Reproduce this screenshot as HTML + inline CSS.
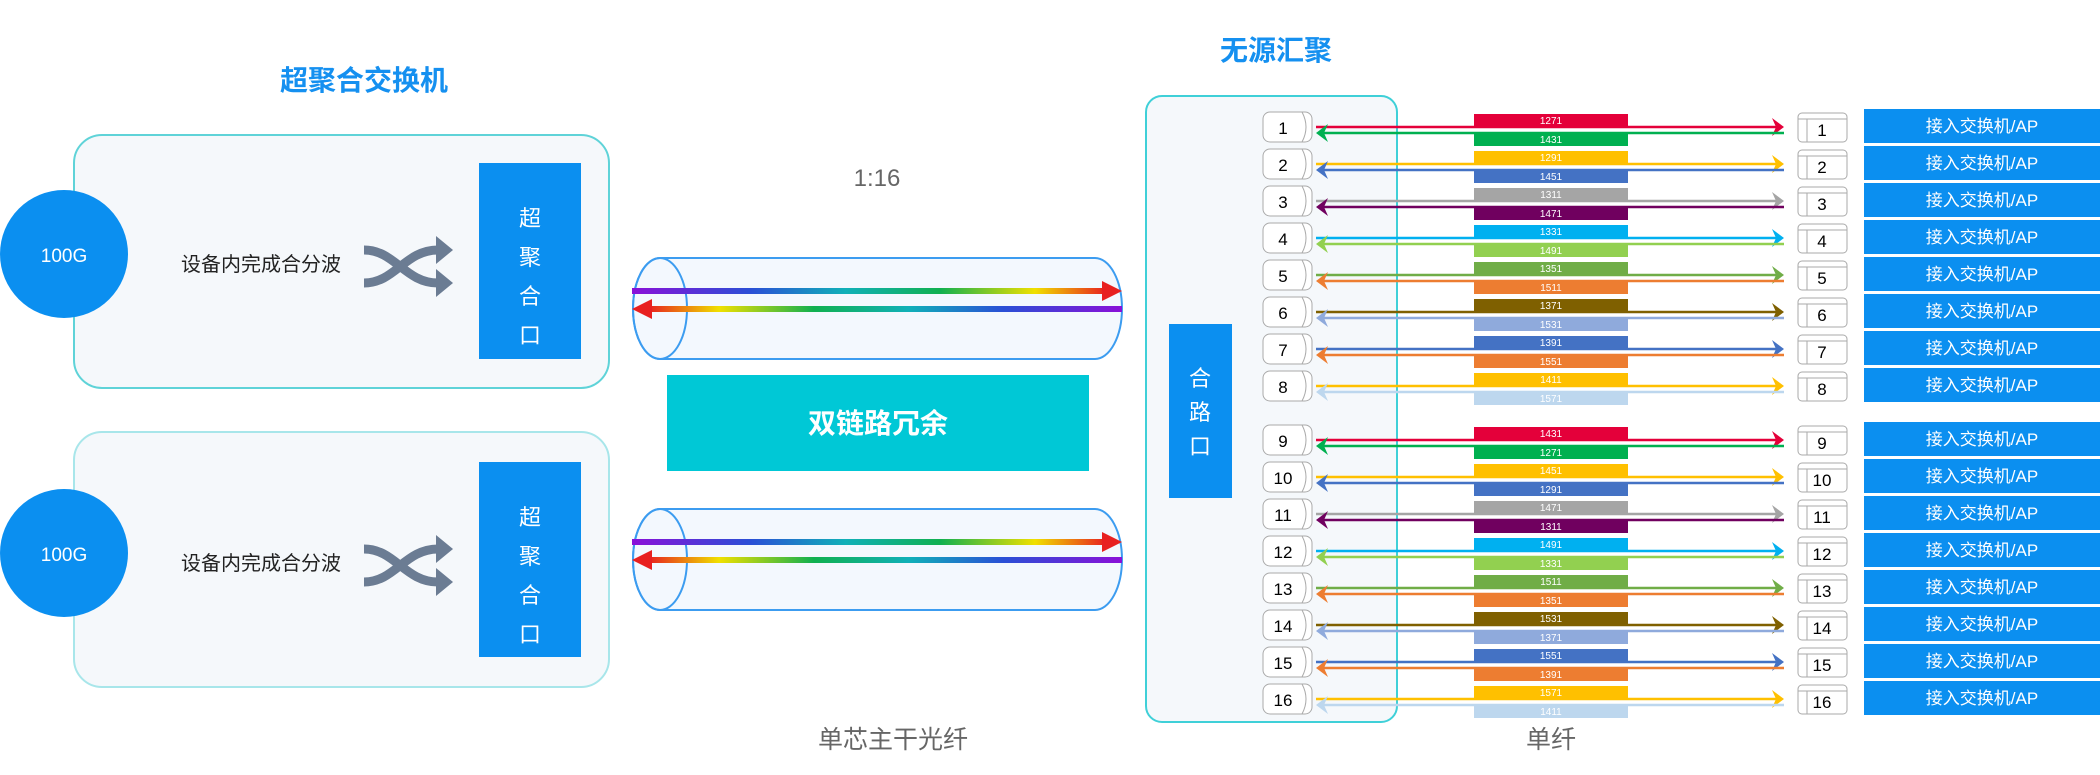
<!DOCTYPE html>
<html><head><meta charset="utf-8"><style>
html,body{margin:0;padding:0;background:#fff;}
svg{display:block;font-family:"Liberation Sans","Noto Sans CJK SC",sans-serif;}
</style></head><body>
<svg width="2100" height="775" viewBox="0 0 2100 775" xmlns="http://www.w3.org/2000/svg">
<defs>
<linearGradient id="gU" x1="0" x2="1" y1="0" y2="0">
<stop offset="0" stop-color="#8a10d8"/><stop offset="0.25" stop-color="#2a4fd6"/><stop offset="0.45" stop-color="#10b0b8"/><stop offset="0.65" stop-color="#10b050"/><stop offset="0.85" stop-color="#f0e000"/><stop offset="1" stop-color="#e82020"/>
</linearGradient>
<linearGradient id="gD" x1="1" x2="0" y1="0" y2="0">
<stop offset="0" stop-color="#8a10d8"/><stop offset="0.25" stop-color="#2a4fd6"/><stop offset="0.45" stop-color="#10b0b8"/><stop offset="0.65" stop-color="#10b050"/><stop offset="0.85" stop-color="#f0e000"/><stop offset="1" stop-color="#e82020"/>
</linearGradient>
</defs>

<!-- Left titles -->
<text x="364" y="90" text-anchor="middle" font-size="28" font-weight="bold" fill="#1590f0">超聚合交换机</text>
<text x="1276" y="60" text-anchor="middle" font-size="28" font-weight="bold" fill="#1590f0">无源汇聚</text>

<!-- Box 1 -->
<rect x="74" y="135" width="535" height="253" rx="28" fill="#f5f8fb" stroke="#5fd3d8" stroke-width="2"/>
<circle cx="64" cy="254" r="64" fill="#0b8ff0"/>
<text x="64" y="262" text-anchor="middle" font-size="19" fill="#fff">100G</text>
<text x="261" y="271" text-anchor="middle" font-size="20" fill="#222">设备内完成合分波</text>
<g fill="none" stroke="#6b7c93" stroke-width="9">
<path d="M364 250 C395 250 405 283 438 283"/><path d="M364 283 C395 283 405 250 438 250"/>
</g>
<polygon points="453,250 436,236 436,264" fill="#6b7c93"/><polygon points="453,283 436,269 436,297" fill="#6b7c93"/>
<rect x="479" y="163" width="102" height="196" fill="#0b8ff0"/>
<text x="530" y="226" text-anchor="middle" font-size="22" fill="#fff">超</text>
<text x="530" y="265" text-anchor="middle" font-size="22" fill="#fff">聚</text>
<text x="530" y="304" text-anchor="middle" font-size="22" fill="#fff">合</text>
<text x="530" y="343" text-anchor="middle" font-size="22" fill="#fff">口</text>

<!-- Box 2 -->
<rect x="74" y="432" width="535" height="255" rx="28" fill="#f5f8fb" stroke="#a8e6ea" stroke-width="2"/>
<circle cx="64" cy="553" r="64" fill="#0b8ff0"/>
<text x="64" y="561" text-anchor="middle" font-size="19" fill="#fff">100G</text>
<text x="261" y="570" text-anchor="middle" font-size="20" fill="#222">设备内完成合分波</text>
<g fill="none" stroke="#6b7c93" stroke-width="9">
<path d="M364 549 C395 549 405 582 438 582"/><path d="M364 582 C395 582 405 549 438 549"/>
</g>
<polygon points="453,549 436,535 436,563" fill="#6b7c93"/><polygon points="453,582 436,568 436,596" fill="#6b7c93"/>
<rect x="479" y="462" width="102" height="195" fill="#0b8ff0"/>
<text x="530" y="525" text-anchor="middle" font-size="22" fill="#fff">超</text>
<text x="530" y="564" text-anchor="middle" font-size="22" fill="#fff">聚</text>
<text x="530" y="603" text-anchor="middle" font-size="22" fill="#fff">合</text>
<text x="530" y="642" text-anchor="middle" font-size="22" fill="#fff">口</text>

<!-- middle -->
<text x="877" y="186" text-anchor="middle" font-size="24" fill="#666">1:16</text>
<g id="tube1">
<path d="M660 258 H1095 A27 50.5 0 0 1 1095 359 H660 A27 50.5 0 0 1 660 258 Z" fill="#f3f8fe" stroke="#3c9cf0" stroke-width="2"/>
<ellipse cx="660" cy="308.5" rx="27" ry="50.5" fill="none" stroke="#3c9cf0" stroke-width="2"/>
<rect x="632" y="288" width="474" height="6" fill="url(#gU)"/>
<polygon points="1122,291 1102,281 1102,301" fill="#e82020"/>
<rect x="648" y="306" width="474" height="6" fill="url(#gD)"/>
<polygon points="632,309 652,299 652,319" fill="#e82020"/>
</g>
<g transform="translate(0,251)">
<path d="M660 258 H1095 A27 50.5 0 0 1 1095 359 H660 A27 50.5 0 0 1 660 258 Z" fill="#f3f8fe" stroke="#3c9cf0" stroke-width="2"/>
<ellipse cx="660" cy="308.5" rx="27" ry="50.5" fill="none" stroke="#3c9cf0" stroke-width="2"/>
<rect x="632" y="288" width="474" height="6" fill="url(#gU)"/>
<polygon points="1122,291 1102,281 1102,301" fill="#e82020"/>
<rect x="648" y="306" width="474" height="6" fill="url(#gD)"/>
<polygon points="632,309 652,299 652,319" fill="#e82020"/>
</g>
<rect x="667" y="375" width="422" height="96" fill="#00c8d6"/>
<text x="878" y="433" text-anchor="middle" font-size="28" font-weight="bold" fill="#fff">双链路冗余</text>
<text x="893" y="748" text-anchor="middle" font-size="25" fill="#666">单芯主干光纤</text>
<text x="1551" y="748" text-anchor="middle" font-size="25" fill="#666">单纤</text>

<!-- right outer -->
<rect x="1146" y="96" width="251" height="626" rx="16" fill="#f5f8fb" stroke="#3fd0d8" stroke-width="2"/>
<rect x="1169" y="324" width="63" height="174" fill="#0b8ff0"/>
<text x="1200" y="386" text-anchor="middle" font-size="22" fill="#fff">合</text>
<text x="1200" y="420" text-anchor="middle" font-size="22" fill="#fff">路</text>
<text x="1200" y="454" text-anchor="middle" font-size="22" fill="#fff">口</text>

<!-- rows -->
<g font-size="17">
<g transform="translate(0,109)"><rect x="1263" y="3" width="49" height="30" rx="7" fill="#fff" stroke="#aaa"/><path d="M1302 3 q8 15 0 30" fill="none" stroke="#aaa"/><text x="1283" y="25" text-anchor="middle">1</text>
<line x1="1316" y1="18" x2="1778" y2="18" stroke="#e4003a" stroke-width="2.5"/><polygon points="1784,18 1772,9 1776,18 1772,27" fill="#e4003a"/>
<line x1="1322" y1="24" x2="1784" y2="24" stroke="#00b050" stroke-width="2.5"/><polygon points="1316,24 1328,15 1324,24 1328,33" fill="#00b050"/>
<rect x="1474" y="5" width="154" height="13" fill="#e4003a"/><rect x="1474" y="24" width="154" height="13" fill="#00b050"/>
<text x="1551" y="15" text-anchor="middle" font-size="10" fill="#fff">1271</text><text x="1551" y="34" text-anchor="middle" font-size="10" fill="#fff">1431</text>
<rect x="1798" y="4" width="49" height="29" rx="4" fill="#fff" stroke="#aaa"/><path d="M1798 10 H1847 M1807 10 V33" stroke="#aaa"/><text x="1822" y="27" text-anchor="middle">1</text>
<rect x="1864" y="0" width="236" height="34" fill="#0b8ff0"/><text x="1982" y="23" text-anchor="middle" fill="#fff">接入交换机/AP</text></g>

<g transform="translate(0,146)"><rect x="1263" y="3" width="49" height="30" rx="7" fill="#fff" stroke="#aaa"/><path d="M1302 3 q8 15 0 30" fill="none" stroke="#aaa"/><text x="1283" y="25" text-anchor="middle">2</text>
<line x1="1316" y1="18" x2="1778" y2="18" stroke="#ffc000" stroke-width="2.5"/><polygon points="1784,18 1772,9 1776,18 1772,27" fill="#ffc000"/>
<line x1="1322" y1="24" x2="1784" y2="24" stroke="#4472c4" stroke-width="2.5"/><polygon points="1316,24 1328,15 1324,24 1328,33" fill="#4472c4"/>
<rect x="1474" y="5" width="154" height="13" fill="#ffc000"/><rect x="1474" y="24" width="154" height="13" fill="#4472c4"/>
<text x="1551" y="15" text-anchor="middle" font-size="10" fill="#fff">1291</text><text x="1551" y="34" text-anchor="middle" font-size="10" fill="#fff">1451</text>
<rect x="1798" y="4" width="49" height="29" rx="4" fill="#fff" stroke="#aaa"/><path d="M1798 10 H1847 M1807 10 V33" stroke="#aaa"/><text x="1822" y="27" text-anchor="middle">2</text>
<rect x="1864" y="0" width="236" height="34" fill="#0b8ff0"/><text x="1982" y="23" text-anchor="middle" fill="#fff">接入交换机/AP</text></g>

<g transform="translate(0,183)"><rect x="1263" y="3" width="49" height="30" rx="7" fill="#fff" stroke="#aaa"/><path d="M1302 3 q8 15 0 30" fill="none" stroke="#aaa"/><text x="1283" y="25" text-anchor="middle">3</text>
<line x1="1316" y1="18" x2="1778" y2="18" stroke="#a5a5a5" stroke-width="2.5"/><polygon points="1784,18 1772,9 1776,18 1772,27" fill="#a5a5a5"/>
<line x1="1322" y1="24" x2="1784" y2="24" stroke="#70005f" stroke-width="2.5"/><polygon points="1316,24 1328,15 1324,24 1328,33" fill="#70005f"/>
<rect x="1474" y="5" width="154" height="13" fill="#a5a5a5"/><rect x="1474" y="24" width="154" height="13" fill="#70005f"/>
<text x="1551" y="15" text-anchor="middle" font-size="10" fill="#fff">1311</text><text x="1551" y="34" text-anchor="middle" font-size="10" fill="#fff">1471</text>
<rect x="1798" y="4" width="49" height="29" rx="4" fill="#fff" stroke="#aaa"/><path d="M1798 10 H1847 M1807 10 V33" stroke="#aaa"/><text x="1822" y="27" text-anchor="middle">3</text>
<rect x="1864" y="0" width="236" height="34" fill="#0b8ff0"/><text x="1982" y="23" text-anchor="middle" fill="#fff">接入交换机/AP</text></g>

<g transform="translate(0,220)"><rect x="1263" y="3" width="49" height="30" rx="7" fill="#fff" stroke="#aaa"/><path d="M1302 3 q8 15 0 30" fill="none" stroke="#aaa"/><text x="1283" y="25" text-anchor="middle">4</text>
<line x1="1316" y1="18" x2="1778" y2="18" stroke="#00b0f0" stroke-width="2.5"/><polygon points="1784,18 1772,9 1776,18 1772,27" fill="#00b0f0"/>
<line x1="1322" y1="24" x2="1784" y2="24" stroke="#92d050" stroke-width="2.5"/><polygon points="1316,24 1328,15 1324,24 1328,33" fill="#92d050"/>
<rect x="1474" y="5" width="154" height="13" fill="#00b0f0"/><rect x="1474" y="24" width="154" height="13" fill="#92d050"/>
<text x="1551" y="15" text-anchor="middle" font-size="10" fill="#fff">1331</text><text x="1551" y="34" text-anchor="middle" font-size="10" fill="#fff">1491</text>
<rect x="1798" y="4" width="49" height="29" rx="4" fill="#fff" stroke="#aaa"/><path d="M1798 10 H1847 M1807 10 V33" stroke="#aaa"/><text x="1822" y="27" text-anchor="middle">4</text>
<rect x="1864" y="0" width="236" height="34" fill="#0b8ff0"/><text x="1982" y="23" text-anchor="middle" fill="#fff">接入交换机/AP</text></g>

<g transform="translate(0,257)"><rect x="1263" y="3" width="49" height="30" rx="7" fill="#fff" stroke="#aaa"/><path d="M1302 3 q8 15 0 30" fill="none" stroke="#aaa"/><text x="1283" y="25" text-anchor="middle">5</text>
<line x1="1316" y1="18" x2="1778" y2="18" stroke="#70ad47" stroke-width="2.5"/><polygon points="1784,18 1772,9 1776,18 1772,27" fill="#70ad47"/>
<line x1="1322" y1="24" x2="1784" y2="24" stroke="#ed7d31" stroke-width="2.5"/><polygon points="1316,24 1328,15 1324,24 1328,33" fill="#ed7d31"/>
<rect x="1474" y="5" width="154" height="13" fill="#70ad47"/><rect x="1474" y="24" width="154" height="13" fill="#ed7d31"/>
<text x="1551" y="15" text-anchor="middle" font-size="10" fill="#fff">1351</text><text x="1551" y="34" text-anchor="middle" font-size="10" fill="#fff">1511</text>
<rect x="1798" y="4" width="49" height="29" rx="4" fill="#fff" stroke="#aaa"/><path d="M1798 10 H1847 M1807 10 V33" stroke="#aaa"/><text x="1822" y="27" text-anchor="middle">5</text>
<rect x="1864" y="0" width="236" height="34" fill="#0b8ff0"/><text x="1982" y="23" text-anchor="middle" fill="#fff">接入交换机/AP</text></g>

<g transform="translate(0,294)"><rect x="1263" y="3" width="49" height="30" rx="7" fill="#fff" stroke="#aaa"/><path d="M1302 3 q8 15 0 30" fill="none" stroke="#aaa"/><text x="1283" y="25" text-anchor="middle">6</text>
<line x1="1316" y1="18" x2="1778" y2="18" stroke="#7f6000" stroke-width="2.5"/><polygon points="1784,18 1772,9 1776,18 1772,27" fill="#7f6000"/>
<line x1="1322" y1="24" x2="1784" y2="24" stroke="#8faadc" stroke-width="2.5"/><polygon points="1316,24 1328,15 1324,24 1328,33" fill="#8faadc"/>
<rect x="1474" y="5" width="154" height="13" fill="#7f6000"/><rect x="1474" y="24" width="154" height="13" fill="#8faadc"/>
<text x="1551" y="15" text-anchor="middle" font-size="10" fill="#fff">1371</text><text x="1551" y="34" text-anchor="middle" font-size="10" fill="#fff">1531</text>
<rect x="1798" y="4" width="49" height="29" rx="4" fill="#fff" stroke="#aaa"/><path d="M1798 10 H1847 M1807 10 V33" stroke="#aaa"/><text x="1822" y="27" text-anchor="middle">6</text>
<rect x="1864" y="0" width="236" height="34" fill="#0b8ff0"/><text x="1982" y="23" text-anchor="middle" fill="#fff">接入交换机/AP</text></g>

<g transform="translate(0,331)"><rect x="1263" y="3" width="49" height="30" rx="7" fill="#fff" stroke="#aaa"/><path d="M1302 3 q8 15 0 30" fill="none" stroke="#aaa"/><text x="1283" y="25" text-anchor="middle">7</text>
<line x1="1316" y1="18" x2="1778" y2="18" stroke="#4472c4" stroke-width="2.5"/><polygon points="1784,18 1772,9 1776,18 1772,27" fill="#4472c4"/>
<line x1="1322" y1="24" x2="1784" y2="24" stroke="#ed7d31" stroke-width="2.5"/><polygon points="1316,24 1328,15 1324,24 1328,33" fill="#ed7d31"/>
<rect x="1474" y="5" width="154" height="13" fill="#4472c4"/><rect x="1474" y="24" width="154" height="13" fill="#ed7d31"/>
<text x="1551" y="15" text-anchor="middle" font-size="10" fill="#fff">1391</text><text x="1551" y="34" text-anchor="middle" font-size="10" fill="#fff">1551</text>
<rect x="1798" y="4" width="49" height="29" rx="4" fill="#fff" stroke="#aaa"/><path d="M1798 10 H1847 M1807 10 V33" stroke="#aaa"/><text x="1822" y="27" text-anchor="middle">7</text>
<rect x="1864" y="0" width="236" height="34" fill="#0b8ff0"/><text x="1982" y="23" text-anchor="middle" fill="#fff">接入交换机/AP</text></g>

<g transform="translate(0,368)"><rect x="1263" y="3" width="49" height="30" rx="7" fill="#fff" stroke="#aaa"/><path d="M1302 3 q8 15 0 30" fill="none" stroke="#aaa"/><text x="1283" y="25" text-anchor="middle">8</text>
<line x1="1316" y1="18" x2="1778" y2="18" stroke="#ffc000" stroke-width="2.5"/><polygon points="1784,18 1772,9 1776,18 1772,27" fill="#ffc000"/>
<line x1="1322" y1="24" x2="1784" y2="24" stroke="#bdd7ee" stroke-width="2.5"/><polygon points="1316,24 1328,15 1324,24 1328,33" fill="#bdd7ee"/>
<rect x="1474" y="5" width="154" height="13" fill="#ffc000"/><rect x="1474" y="24" width="154" height="13" fill="#bdd7ee"/>
<text x="1551" y="15" text-anchor="middle" font-size="10" fill="#fff">1411</text><text x="1551" y="34" text-anchor="middle" font-size="10" fill="#fff">1571</text>
<rect x="1798" y="4" width="49" height="29" rx="4" fill="#fff" stroke="#aaa"/><path d="M1798 10 H1847 M1807 10 V33" stroke="#aaa"/><text x="1822" y="27" text-anchor="middle">8</text>
<rect x="1864" y="0" width="236" height="34" fill="#0b8ff0"/><text x="1982" y="23" text-anchor="middle" fill="#fff">接入交换机/AP</text></g>

<g transform="translate(0,422)"><rect x="1263" y="3" width="49" height="30" rx="7" fill="#fff" stroke="#aaa"/><path d="M1302 3 q8 15 0 30" fill="none" stroke="#aaa"/><text x="1283" y="25" text-anchor="middle">9</text>
<line x1="1316" y1="18" x2="1778" y2="18" stroke="#e4003a" stroke-width="2.5"/><polygon points="1784,18 1772,9 1776,18 1772,27" fill="#e4003a"/>
<line x1="1322" y1="24" x2="1784" y2="24" stroke="#00b050" stroke-width="2.5"/><polygon points="1316,24 1328,15 1324,24 1328,33" fill="#00b050"/>
<rect x="1474" y="5" width="154" height="13" fill="#e4003a"/><rect x="1474" y="24" width="154" height="13" fill="#00b050"/>
<text x="1551" y="15" text-anchor="middle" font-size="10" fill="#fff">1431</text><text x="1551" y="34" text-anchor="middle" font-size="10" fill="#fff">1271</text>
<rect x="1798" y="4" width="49" height="29" rx="4" fill="#fff" stroke="#aaa"/><path d="M1798 10 H1847 M1807 10 V33" stroke="#aaa"/><text x="1822" y="27" text-anchor="middle">9</text>
<rect x="1864" y="0" width="236" height="34" fill="#0b8ff0"/><text x="1982" y="23" text-anchor="middle" fill="#fff">接入交换机/AP</text></g>

<g transform="translate(0,459)"><rect x="1263" y="3" width="49" height="30" rx="7" fill="#fff" stroke="#aaa"/><path d="M1302 3 q8 15 0 30" fill="none" stroke="#aaa"/><text x="1283" y="25" text-anchor="middle">10</text>
<line x1="1316" y1="18" x2="1778" y2="18" stroke="#ffc000" stroke-width="2.5"/><polygon points="1784,18 1772,9 1776,18 1772,27" fill="#ffc000"/>
<line x1="1322" y1="24" x2="1784" y2="24" stroke="#4472c4" stroke-width="2.5"/><polygon points="1316,24 1328,15 1324,24 1328,33" fill="#4472c4"/>
<rect x="1474" y="5" width="154" height="13" fill="#ffc000"/><rect x="1474" y="24" width="154" height="13" fill="#4472c4"/>
<text x="1551" y="15" text-anchor="middle" font-size="10" fill="#fff">1451</text><text x="1551" y="34" text-anchor="middle" font-size="10" fill="#fff">1291</text>
<rect x="1798" y="4" width="49" height="29" rx="4" fill="#fff" stroke="#aaa"/><path d="M1798 10 H1847 M1807 10 V33" stroke="#aaa"/><text x="1822" y="27" text-anchor="middle">10</text>
<rect x="1864" y="0" width="236" height="34" fill="#0b8ff0"/><text x="1982" y="23" text-anchor="middle" fill="#fff">接入交换机/AP</text></g>

<g transform="translate(0,496)"><rect x="1263" y="3" width="49" height="30" rx="7" fill="#fff" stroke="#aaa"/><path d="M1302 3 q8 15 0 30" fill="none" stroke="#aaa"/><text x="1283" y="25" text-anchor="middle">11</text>
<line x1="1316" y1="18" x2="1778" y2="18" stroke="#a5a5a5" stroke-width="2.5"/><polygon points="1784,18 1772,9 1776,18 1772,27" fill="#a5a5a5"/>
<line x1="1322" y1="24" x2="1784" y2="24" stroke="#70005f" stroke-width="2.5"/><polygon points="1316,24 1328,15 1324,24 1328,33" fill="#70005f"/>
<rect x="1474" y="5" width="154" height="13" fill="#a5a5a5"/><rect x="1474" y="24" width="154" height="13" fill="#70005f"/>
<text x="1551" y="15" text-anchor="middle" font-size="10" fill="#fff">1471</text><text x="1551" y="34" text-anchor="middle" font-size="10" fill="#fff">1311</text>
<rect x="1798" y="4" width="49" height="29" rx="4" fill="#fff" stroke="#aaa"/><path d="M1798 10 H1847 M1807 10 V33" stroke="#aaa"/><text x="1822" y="27" text-anchor="middle">11</text>
<rect x="1864" y="0" width="236" height="34" fill="#0b8ff0"/><text x="1982" y="23" text-anchor="middle" fill="#fff">接入交换机/AP</text></g>

<g transform="translate(0,533)"><rect x="1263" y="3" width="49" height="30" rx="7" fill="#fff" stroke="#aaa"/><path d="M1302 3 q8 15 0 30" fill="none" stroke="#aaa"/><text x="1283" y="25" text-anchor="middle">12</text>
<line x1="1316" y1="18" x2="1778" y2="18" stroke="#00b0f0" stroke-width="2.5"/><polygon points="1784,18 1772,9 1776,18 1772,27" fill="#00b0f0"/>
<line x1="1322" y1="24" x2="1784" y2="24" stroke="#92d050" stroke-width="2.5"/><polygon points="1316,24 1328,15 1324,24 1328,33" fill="#92d050"/>
<rect x="1474" y="5" width="154" height="13" fill="#00b0f0"/><rect x="1474" y="24" width="154" height="13" fill="#92d050"/>
<text x="1551" y="15" text-anchor="middle" font-size="10" fill="#fff">1491</text><text x="1551" y="34" text-anchor="middle" font-size="10" fill="#fff">1331</text>
<rect x="1798" y="4" width="49" height="29" rx="4" fill="#fff" stroke="#aaa"/><path d="M1798 10 H1847 M1807 10 V33" stroke="#aaa"/><text x="1822" y="27" text-anchor="middle">12</text>
<rect x="1864" y="0" width="236" height="34" fill="#0b8ff0"/><text x="1982" y="23" text-anchor="middle" fill="#fff">接入交换机/AP</text></g>

<g transform="translate(0,570)"><rect x="1263" y="3" width="49" height="30" rx="7" fill="#fff" stroke="#aaa"/><path d="M1302 3 q8 15 0 30" fill="none" stroke="#aaa"/><text x="1283" y="25" text-anchor="middle">13</text>
<line x1="1316" y1="18" x2="1778" y2="18" stroke="#70ad47" stroke-width="2.5"/><polygon points="1784,18 1772,9 1776,18 1772,27" fill="#70ad47"/>
<line x1="1322" y1="24" x2="1784" y2="24" stroke="#ed7d31" stroke-width="2.5"/><polygon points="1316,24 1328,15 1324,24 1328,33" fill="#ed7d31"/>
<rect x="1474" y="5" width="154" height="13" fill="#70ad47"/><rect x="1474" y="24" width="154" height="13" fill="#ed7d31"/>
<text x="1551" y="15" text-anchor="middle" font-size="10" fill="#fff">1511</text><text x="1551" y="34" text-anchor="middle" font-size="10" fill="#fff">1351</text>
<rect x="1798" y="4" width="49" height="29" rx="4" fill="#fff" stroke="#aaa"/><path d="M1798 10 H1847 M1807 10 V33" stroke="#aaa"/><text x="1822" y="27" text-anchor="middle">13</text>
<rect x="1864" y="0" width="236" height="34" fill="#0b8ff0"/><text x="1982" y="23" text-anchor="middle" fill="#fff">接入交换机/AP</text></g>

<g transform="translate(0,607)"><rect x="1263" y="3" width="49" height="30" rx="7" fill="#fff" stroke="#aaa"/><path d="M1302 3 q8 15 0 30" fill="none" stroke="#aaa"/><text x="1283" y="25" text-anchor="middle">14</text>
<line x1="1316" y1="18" x2="1778" y2="18" stroke="#7f6000" stroke-width="2.5"/><polygon points="1784,18 1772,9 1776,18 1772,27" fill="#7f6000"/>
<line x1="1322" y1="24" x2="1784" y2="24" stroke="#8faadc" stroke-width="2.5"/><polygon points="1316,24 1328,15 1324,24 1328,33" fill="#8faadc"/>
<rect x="1474" y="5" width="154" height="13" fill="#7f6000"/><rect x="1474" y="24" width="154" height="13" fill="#8faadc"/>
<text x="1551" y="15" text-anchor="middle" font-size="10" fill="#fff">1531</text><text x="1551" y="34" text-anchor="middle" font-size="10" fill="#fff">1371</text>
<rect x="1798" y="4" width="49" height="29" rx="4" fill="#fff" stroke="#aaa"/><path d="M1798 10 H1847 M1807 10 V33" stroke="#aaa"/><text x="1822" y="27" text-anchor="middle">14</text>
<rect x="1864" y="0" width="236" height="34" fill="#0b8ff0"/><text x="1982" y="23" text-anchor="middle" fill="#fff">接入交换机/AP</text></g>

<g transform="translate(0,644)"><rect x="1263" y="3" width="49" height="30" rx="7" fill="#fff" stroke="#aaa"/><path d="M1302 3 q8 15 0 30" fill="none" stroke="#aaa"/><text x="1283" y="25" text-anchor="middle">15</text>
<line x1="1316" y1="18" x2="1778" y2="18" stroke="#4472c4" stroke-width="2.5"/><polygon points="1784,18 1772,9 1776,18 1772,27" fill="#4472c4"/>
<line x1="1322" y1="24" x2="1784" y2="24" stroke="#ed7d31" stroke-width="2.5"/><polygon points="1316,24 1328,15 1324,24 1328,33" fill="#ed7d31"/>
<rect x="1474" y="5" width="154" height="13" fill="#4472c4"/><rect x="1474" y="24" width="154" height="13" fill="#ed7d31"/>
<text x="1551" y="15" text-anchor="middle" font-size="10" fill="#fff">1551</text><text x="1551" y="34" text-anchor="middle" font-size="10" fill="#fff">1391</text>
<rect x="1798" y="4" width="49" height="29" rx="4" fill="#fff" stroke="#aaa"/><path d="M1798 10 H1847 M1807 10 V33" stroke="#aaa"/><text x="1822" y="27" text-anchor="middle">15</text>
<rect x="1864" y="0" width="236" height="34" fill="#0b8ff0"/><text x="1982" y="23" text-anchor="middle" fill="#fff">接入交换机/AP</text></g>

<g transform="translate(0,681)"><rect x="1263" y="3" width="49" height="30" rx="7" fill="#fff" stroke="#aaa"/><path d="M1302 3 q8 15 0 30" fill="none" stroke="#aaa"/><text x="1283" y="25" text-anchor="middle">16</text>
<line x1="1316" y1="18" x2="1778" y2="18" stroke="#ffc000" stroke-width="2.5"/><polygon points="1784,18 1772,9 1776,18 1772,27" fill="#ffc000"/>
<line x1="1322" y1="24" x2="1784" y2="24" stroke="#bdd7ee" stroke-width="2.5"/><polygon points="1316,24 1328,15 1324,24 1328,33" fill="#bdd7ee"/>
<rect x="1474" y="5" width="154" height="13" fill="#ffc000"/><rect x="1474" y="24" width="154" height="13" fill="#bdd7ee"/>
<text x="1551" y="15" text-anchor="middle" font-size="10" fill="#fff">1571</text><text x="1551" y="34" text-anchor="middle" font-size="10" fill="#fff">1411</text>
<rect x="1798" y="4" width="49" height="29" rx="4" fill="#fff" stroke="#aaa"/><path d="M1798 10 H1847 M1807 10 V33" stroke="#aaa"/><text x="1822" y="27" text-anchor="middle">16</text>
<rect x="1864" y="0" width="236" height="34" fill="#0b8ff0"/><text x="1982" y="23" text-anchor="middle" fill="#fff">接入交换机/AP</text></g>
</g>
</svg>
</body></html>
